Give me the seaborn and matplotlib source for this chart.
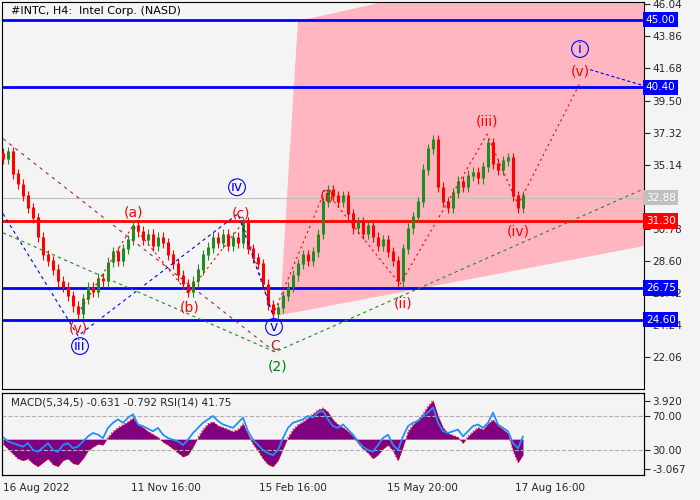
import numpy as np
import pandas as pd
import seaborn as sns
import matplotlib.pyplot as plt
from matplotlib.patches import Polygon

# candle closes (H4, one every ~5 px)
closes = [35.5, 36.0, 34.5, 33.8, 33.0, 32.2, 31.5, 30.2, 29.0, 28.6,
          28.0, 27.2, 26.8, 26.2, 25.5, 25.0, 26.0, 26.8, 26.5, 27.4,
          27.2, 28.5, 29.2, 28.6, 29.4, 30.0, 31.0, 30.6, 30.0, 30.4,
          29.6, 30.2, 29.8, 29.0, 28.4, 27.6, 27.0, 26.5, 27.2, 28.0,
          29.0, 29.5, 30.2, 29.8, 30.4, 29.6, 30.2, 29.8, 31.2, 29.4,
          28.8, 28.4, 27.0, 25.6, 25.0, 25.4, 26.2, 26.8, 27.6, 28.4,
          29.0, 28.6, 29.2, 30.4, 32.6, 33.4, 33.0, 32.6, 33.0, 31.8,
          30.8, 31.2, 30.4, 31.0, 30.2, 29.6, 30.0, 29.2, 28.6, 27.2,
          29.4, 30.8, 31.6, 32.6, 34.8, 36.2, 36.8, 33.6, 32.6, 32.2,
          33.2, 34.0, 33.6, 34.4, 34.6, 34.2, 35.0, 36.6, 35.2, 34.8,
          35.4, 35.6, 33.0, 32.2, 33.0]
macd_hist = [-0.5, -1.0, -1.5, -2.0, -2.2, -2.0, -2.5, -2.8, -2.4, -2.0, -2.6, -2.8, -2.2, -2.0, -2.5, -2.6,
             -2.0, -1.2, -0.8, -0.5, -0.6, 0.2, 0.8, 1.2, 1.5, 1.8,
             2.2, 1.5, 1.2, 0.8, 0.5, 0.2, -0.3, -0.6, -1.0, -1.4,
             -1.8, -1.6, -0.8, 0.2, 1.0, 1.6, 1.8, 1.4, 1.2, 1.0, 0.8, 1.0,
             1.6, 0.5, -0.5, -1.2, -2.0, -2.6, -2.8, -2.2, -1.0, 0.2,
             1.0, 1.5, 1.8, 2.2, 2.6, 3.0, 3.2, 2.8, 2.0, 1.5, 1.2,
             0.8, 0.3, -0.4, -1.0, -1.4, -2.0, -1.6, -1.0, -0.6, -1.2, -2.2,
             -0.8, 0.8, 1.5, 2.0, 2.6, 3.4, 4.0, 2.4, 1.2, 0.6,
             0.4, 0.2, -0.4, 0.3, 0.8, 1.2, 1.0, 1.6, 2.0, 1.4,
             1.0, 0.6, -1.2, -2.4, -1.6]
rsi = [45, 40, 38, 36, 34, 38, 30, 28, 33, 38, 30, 28, 36, 38, 32, 34,
       40, 46, 50, 48, 44, 56, 62, 66, 62, 68,
       72, 60, 58, 55, 52, 56, 48, 44, 42, 40,
       36, 42, 50, 56, 62, 66, 70, 64, 60, 58, 56, 62,
       68, 52, 42, 36, 30, 26, 24, 30, 44, 56,
       62, 64, 66, 70, 68, 74, 76, 66, 58, 56, 60,
       54, 48, 40, 34, 30, 28, 36, 44, 48, 36, 30,
       46, 58, 62, 64, 70, 74, 80, 62, 52, 50,
       52, 54, 46, 52, 58, 60, 56, 62, 74, 60,
       56, 52, 38, 32, 46]

date_ticks = [0, 25.6, 51.2, 76.8, 102.4]
date_labels = ['16 Aug 2022', '11 Nov 16:00', '15 Feb 16:00', '15 May 20:00', '17 Aug 16:00']
price_ticks = [46.04, 43.86, 41.68, 39.50, 37.32, 35.14, 30.78, 28.60, 26.42, 24.24, 22.06]
blue_levels = [45.00, 40.40, 26.75, 24.60]
red_level = 31.30
last_price = 32.88

# wave paths (bar index, price)
red_wave1 = [(15, 25.0), (26, 31.0), (37, 26.4), (48, 31.2), (54, 24.9)]
red_wave2 = [(54, 24.9), (64.4, 33.4), (79.4, 27.0), (96.8, 37.2), (103, 32.4), (115.4, 40.7)]
blue_wave = [(0, 31.8), (15, 23.5), (47, 31.8), (54, 24.9)]
brown_wave = [(0, 36.9), (54.4, 22.4)]
green_wave = [(0, 30.5), (54.4, 22.4), (128.2, 33.5)]
blue_tail = [(117.4, 41.6), (128.2, 40.5)]
pink_zone = [(55.4, 24.9), (56.8, 33.0), (59.0, 44.9), (80, 46.5), (128.2, 46.5), (128.2, 29.6)]

sns.set_style('white')
plt.rcParams['font.family'] = ['DejaVu Sans']
bg = '#f4f4f4'
fig = plt.figure(figsize=(7, 5), dpi=100, facecolor=bg)
ax = fig.add_axes([2/700, 1-389/500, 642/700, 387/500], facecolor=bg)
ax2 = fig.add_axes([2/700, 1-475/500, 642/700, 82/500], facecolor=bg)

xlim = (-0.2, 128.2)
ax.set_xlim(*xlim)
ax.set_ylim(19.88, 46.2)

ax.add_patch(Polygon(pink_zone, closed=True, fc='#ffb6c1', ec='none', zorder=0))

# candles
opens = [closes[0] + 0.4] + closes[:-1]
for i, (o, c) in enumerate(zip(opens, closes)):
    col = '#228b22' if c >= o else '#ff0000'
    ax.vlines(i, min(o, c) - 0.35, max(o, c) + 0.35, color=col, lw=0.8, zorder=3)
    ax.vlines(i, min(o, c), max(o, c) + 0.05, color=col, lw=2.2, zorder=3)

for lv in blue_levels:
    ax.axhline(lv, color='#0000ff', lw=2, zorder=2)
ax.axhline(red_level, color='#ff0000', lw=2, zorder=2)
ax.axhline(last_price, color='#c0c0c0', lw=0.8, zorder=1)

def path(pts, **kw):
    xs, ys = zip(*pts)
    ax.plot(xs, ys, zorder=4, lw=0.8, **kw)

path(red_wave1, color='#ff0000', ls=(0, (2, 3)))
path(red_wave2, color='#ff0000', ls=(0, (2, 3)))
path(blue_wave, color='#0000ff', ls=(0, (3, 3)))
path(brown_wave, color='#a52a2a', ls=(0, (3, 4)))
path(green_wave, color='#228b22', ls=(0, (3, 3)))
path(blue_tail, color='#0000ff', ls=(0, (3, 2)))

labels = [('(v)', 15, 24.0, 'red', False), ('iii', 15.4, 22.8, 'blue', True),
          ('(a)', 26, 31.9, 'red', False), ('(b)', 37.4, 25.4, 'red', False),
          ('(c)', 47.6, 31.8, 'red', False), ('iv', 46.8, 33.6, 'blue', True),
          ('v', 54.2, 24.1, 'blue', True), ('C', 54.4, 22.8, '#a52a2a', False),
          ('(2)', 55, 21.4, 'green', False), ('(i)', 64.8, 33.0, 'red', False),
          ('(ii)', 80, 25.7, 'red', False), ('(iii)', 96.8, 38.1, 'red', False),
          ('(iv)', 103, 30.6, 'red', False), ('(v)', 115.4, 41.5, 'red', False),
          ('i', 115.4, 43.0, 'blue', True)]
for t, x, y, c, circ in labels:
    kw = dict(boxstyle='circle,pad=0.1', fc='none', ec='blue', lw=0.8) if circ else None
    ax.text(x, y, t, color=c, fontsize=10, ha='center', va='center', bbox=kw, zorder=5)

ax.text(1.5, 45.9, '#INTC, H4:  Intel Corp. (NASD)', fontsize=8, va='top', color='black')

ax.yaxis.tick_right()
ax.set_yticks(price_ticks)
ax.set_yticklabels([f'{p:.2f}' for p in price_ticks], fontsize=7.5)
ax.set_xticks([])
ax.tick_params(axis='y', length=4, pad=2)
for lv, fc, tc in [(l, '#0000ff', 'white') for l in blue_levels] + [(red_level, '#ff0000', 'white'), (last_price, '#c0c0c0', 'white')]:
    ax.text(1.003, lv, f'{lv:.2f}', transform=ax.get_yaxis_transform(), fontsize=7.5, color=tc,
            va='center', ha='left', zorder=10,
            bbox=dict(boxstyle='square,pad=0.25', fc=fc, ec='none'), clip_on=False)

# MACD / RSI panel
idx = np.arange(len(macd_hist))
ax2.set_xlim(*xlim)
ax2.set_ylim(-3.68, 4.74)
ax2.fill_between(idx, 0, macd_hist, color='#800080', lw=0)
ax2.plot(idx, macd_hist, color='red', lw=0.6, ls=(0, (2, 2)))
ax3 = ax2.twinx()
ax3.set_ylim(0.6, 97)
ax3.axhline(70, color='#b0b0b0', lw=0.8, ls='--')
ax3.axhline(30, color='#b0b0b0', lw=0.8, ls='--')
sns.lineplot(x=idx, y=rsi, ax=ax3, color='#1e90ff', lw=1.3)
ax3.set_yticks([70, 30])
ax3.set_yticklabels(['70.00', '30.00'], fontsize=7.5)
ax3.set_ylabel('')
ax3.tick_params(axis='y', length=4, pad=2)
ax2.yaxis.tick_right()
ax2.set_yticks([3.92, -3.067])
ax2.set_yticklabels(['3.920', '-3.067'], fontsize=7.5)
ax2.tick_params(axis='y', length=4, pad=2)
ax2.set_xticks(date_ticks)
ax2.set_xticklabels(date_labels, fontsize=7.5, ha='left')
ax2.tick_params(axis='x', length=4, pad=2)
ax2.text(1.5, 4.3, 'MACD(5,34,5) -0.631 -0.792 RSI(14) 41.75', fontsize=7.5, va='top')

for a in (ax, ax2, ax3):
    for s in a.spines.values():
        s.set_color('black')
        s.set_linewidth(0.8)

fig.savefig('out.png', dpi=100, facecolor=bg)
